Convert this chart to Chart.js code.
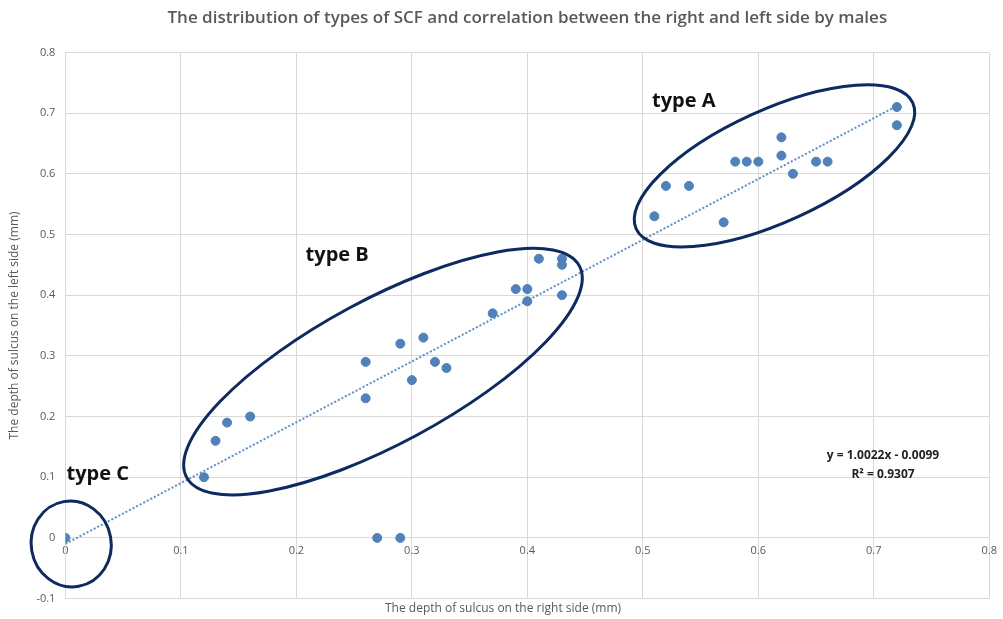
<!DOCTYPE html>
<html>
<head>
<meta charset="utf-8">
<script src="https://cdn.jsdelivr.net/npm/chart.js@4"></script>
<style>
  html, body { margin: 0; padding: 0; background: #fff; }
  #wrap { width: 1003px; height: 619px; }
</style>
</head>
<body>
<div id="wrap"><canvas id="scatterChart"></canvas></div>
<script>
// depth of sulcus, right side (x) and left side (y), mm
const rightSide = [0.51, 0.52, 0.54, 0.57, 0.58, 0.59, 0.60, 0.62, 0.62, 0.63, 0.65, 0.66, 0.72, 0.72,
                   0.12, 0.13, 0.14, 0.16, 0.26, 0.26, 0.29, 0.30, 0.31, 0.32, 0.33, 0.37, 0.39, 0.40, 0.40, 0.41, 0.43, 0.43, 0.43,
                   0, 0.27, 0.29];
const leftSide  = [0.53, 0.58, 0.58, 0.52, 0.62, 0.62, 0.62, 0.66, 0.63, 0.60, 0.62, 0.62, 0.71, 0.68,
                   0.10, 0.16, 0.19, 0.20, 0.29, 0.23, 0.32, 0.26, 0.33, 0.29, 0.28, 0.37, 0.41, 0.41, 0.39, 0.46, 0.46, 0.45, 0.40,
                   0, 0, 0];

// linear trendline end points (y = 1.0022x - 0.0099)
const trendX = [0, 0.72];
const trendY = [-0.0099, 0.7117];

const xTicks = [0, 0.1, 0.2, 0.3, 0.4, 0.5, 0.6, 0.7, 0.8];
const yTicks = [-0.1, 0, 0.1, 0.2, 0.3, 0.4, 0.5, 0.6, 0.7, 0.8];

const groupLabels = ['type A', 'type B', 'type C'];
const equationLines = ['y = 1.0022x - 0.0099', 'R\u00b2 = 0.9307'];

// ellipses round each group: centre in data units, radii in px, tilt in degrees
const ellipses = [
    { cx: 0.614, cy: 0.613, rx: 152, ry: 56, tilt: -24.5 },
    { cx: 0.275, cy: 0.274, rx: 223, ry: 72, tilt: -28.3 },
    { cx: 0.005, cy: -0.01, rx: 40, ry: 43, tilt: -10 }
];

const grey = '#595959';

const annotationPlugin = {
    id: 'groupMarks',
    afterDatasetsDraw(chart) {
        const c = chart.ctx;
        const xs = chart.scales.x, ys = chart.scales.y;
        c.save();
        // ellipses
        c.strokeStyle = '#0d2a62';
        c.lineWidth = 3;
        ellipses.forEach(e => {
            c.beginPath();
            c.ellipse(xs.getPixelForValue(e.cx), ys.getPixelForValue(e.cy), e.rx, e.ry,
                      e.tilt * Math.PI / 180, 0, Math.PI * 2);
            c.stroke();
        });
        // group labels
        c.fillStyle = '#111';
        c.font = 'bold 20px "Open Sans", sans-serif';
        c.textBaseline = 'middle';
        c.textAlign = 'left';
        const spots = [[0.508, 0.72], [0.208, 0.465], [0.001, 0.105]];
        groupLabels.forEach((t, i) => {
            c.fillText(t, xs.getPixelForValue(spots[i][0]), ys.getPixelForValue(spots[i][1]));
        });
        // trendline equation
        c.font = 'bold 12px "Open Sans", sans-serif';
        c.textAlign = 'center';
        c.fillStyle = '#222';
        const ex = xs.getPixelForValue(0.708);
        c.fillText(equationLines[0], ex, ys.getPixelForValue(0.136));
        c.fillText(equationLines[1], ex, ys.getPixelForValue(0.105));
        c.restore();
    }
};

const ctx = document.getElementById('scatterChart').getContext('2d');
const scatterChart = new Chart(ctx, {
    type: 'scatter',
    data: {
        datasets: [
            {
                label: 'SCF',
                data: rightSide.map((x, i) => ({ x: x, y: leftSide[i] })),
                backgroundColor: '#4f81bd',
                borderColor: '#4f81bd',
                pointRadius: 4.5,
                pointHoverRadius: 4.5
            },
            {
                label: 'Linear trend',
                type: 'line',
                data: trendX.map((x, i) => ({ x: x, y: trendY[i] })),
                borderColor: '#5b8fd0',
                borderWidth: 2,
                borderDash: [2, 2],
                pointRadius: 0,
                fill: false
            }
        ]
    },
    options: {
        responsive: true,
        maintainAspectRatio: false,
        animation: false,
        layout: { padding: { left: 7, right: 4, top: 0, bottom: 0 } },
        plugins: {
            legend: { display: false },
            tooltip: { enabled: false },
            title: {
                display: true,
                fullSize: false,
                text: 'The distribution of types of SCF and correlation between the right and left side by males',
                color: grey,
                font: { family: '"Open Sans", sans-serif', size: 17, weight: '600' },
                padding: { top: 8, bottom: 24 }
            },
            subtitle: {
                display: true,
                position: 'bottom',
                text: 'The depth of sulcus on the right side (mm)',
                color: grey,
                font: { family: '"Open Sans", sans-serif', size: 12 },
                padding: { top: 3, bottom: 3 }
            }
        },
        scales: {
            x: {
                type: 'linear',
                position: { y: 0 },
                min: 0,
                max: 0.8,
                afterBuildTicks: s => { s.ticks = xTicks.map(v => ({ value: v })); },
                ticks: {
                    color: grey,
                    font: { family: '"Open Sans", sans-serif', size: 11 },
                    padding: 6,
                    maxRotation: 0,
                    callback: v => String(Math.round(v * 10) / 10)
                },
                grid: { color: '#d9d9d9', lineWidth: 1, drawTicks: false },
                border: { color: '#d9d9d9' }
            },
            y: {
                type: 'linear',
                min: -0.1,
                max: 0.8,
                afterBuildTicks: s => { s.ticks = yTicks.map(v => ({ value: v })); },
                ticks: {
                    color: grey,
                    font: { family: '"Open Sans", sans-serif', size: 11 },
                    padding: 10,
                    callback: v => String(Math.round(v * 10) / 10)
                },
                grid: { color: '#d9d9d9', lineWidth: 1, drawTicks: false },
                border: { color: '#d9d9d9' },
                title: {
                    display: true,
                    text: 'The depth of sulcus on the left side (mm)',
                    color: grey,
                    font: { family: '"Open Sans", sans-serif', size: 12 },
                    padding: { top: 0, bottom: 5 }
                }
            }
        }
    },
    plugins: [annotationPlugin]
});
</script>
</body>
</html>
